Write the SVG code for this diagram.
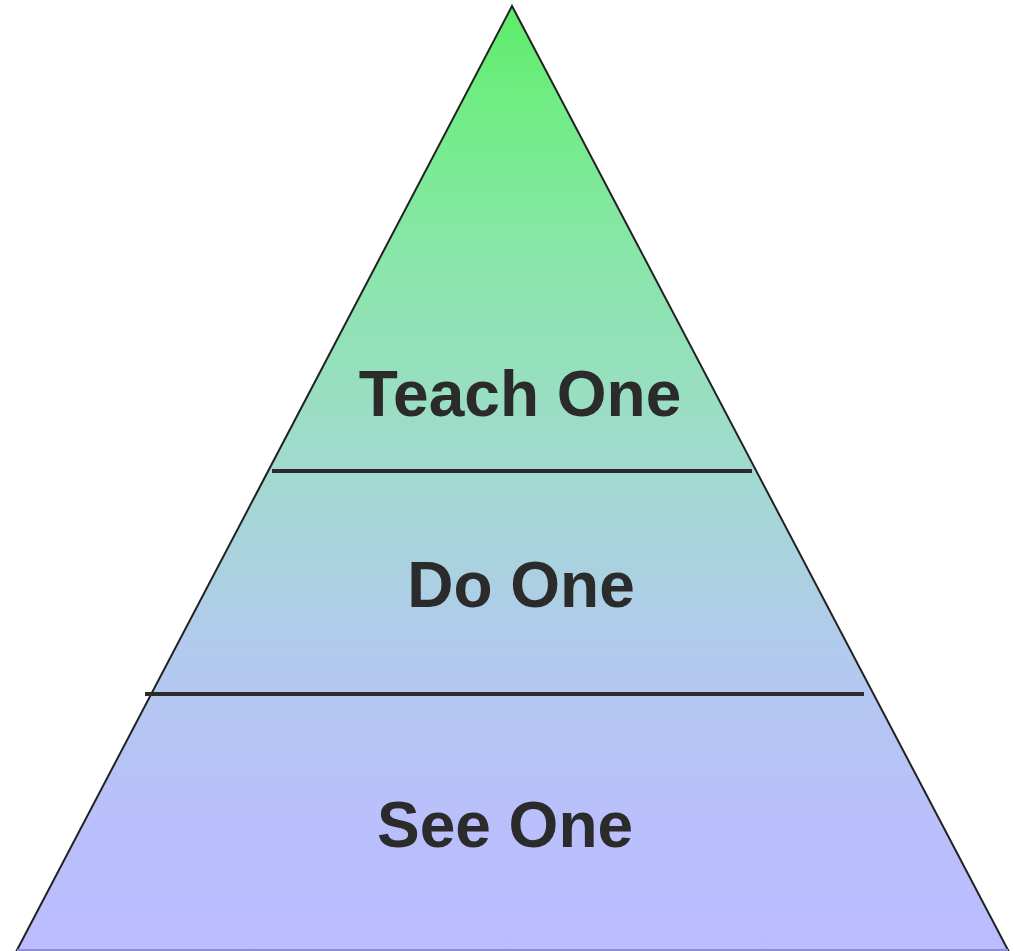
<svg xmlns="http://www.w3.org/2000/svg" width="1014" height="951" viewBox="0 0 1014 951">
<defs>
<linearGradient id="g" gradientUnits="userSpaceOnUse" x1="0" y1="6" x2="0" y2="950">
<stop offset="0" stop-color="#5ceb68"/>
<stop offset="0.1" stop-color="#70ed84"/>
<stop offset="0.26" stop-color="#88e6a8"/>
<stop offset="0.46" stop-color="#9edcca"/>
<stop offset="0.67" stop-color="#b1cbec"/>
<stop offset="0.85" stop-color="#b9c0fa"/>
<stop offset="1" stop-color="#bbbcff"/>
</linearGradient>
<style>
.lbl{font-family:"Liberation Sans",Arial,sans-serif;font-weight:bold;font-size:64px;fill:#2b2b2b;text-anchor:middle}
.sep{stroke:#2b2b2b;stroke-width:4;fill:none}
</style>
</defs>
<g id="pyramid">
<polygon points="512,6 1008,950 17,950" fill="url(#g)" stroke="#222" stroke-width="2" stroke-linejoin="miter"/>
<line x1="17" y1="950" x2="1008" y2="950" stroke="#8e8ed0" stroke-width="2"/>
</g>
<g id="connectors">
<line class="sep" x1="272" y1="471" x2="752" y2="471"/>
<line class="sep" x1="145" y1="694" x2="864" y2="694"/>
</g>
<g id="teach"><text class="lbl" x="520" y="416">Teach One</text></g>
<g id="do"><text class="lbl" x="521" y="607">Do One</text></g>
<g id="see"><text class="lbl" x="505" y="847">See One</text></g>
</svg>
